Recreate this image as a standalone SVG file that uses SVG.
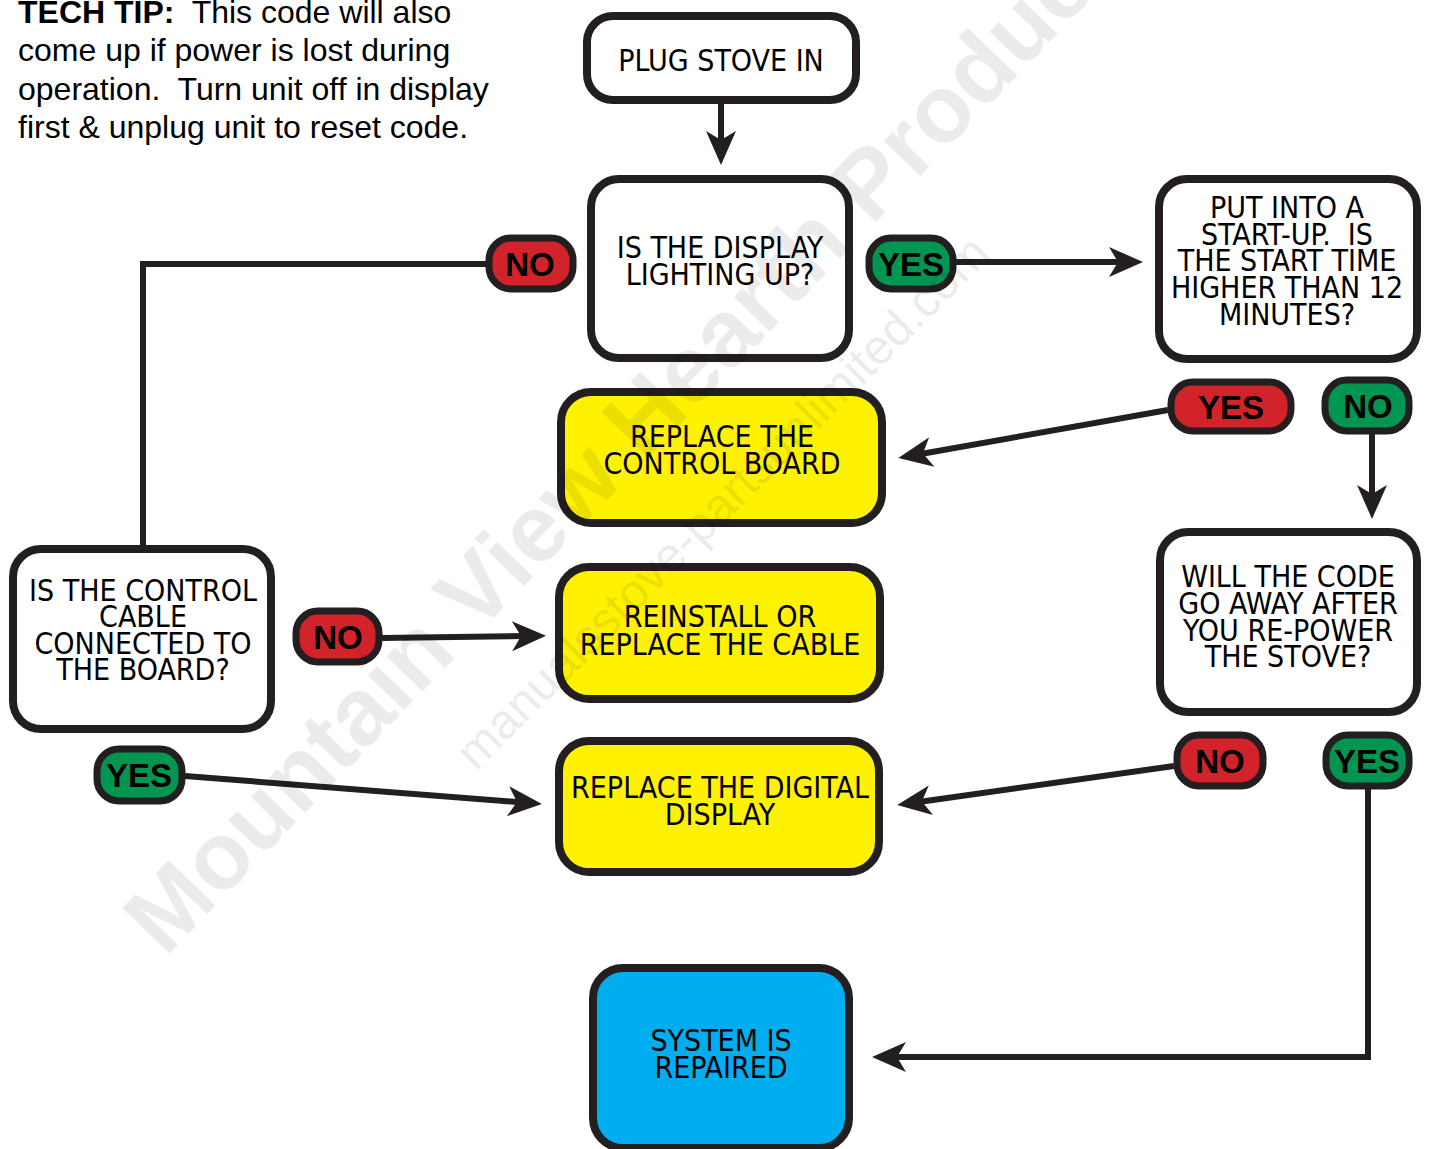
<svg xmlns="http://www.w3.org/2000/svg" width="1430" height="1149" viewBox="0 0 1430 1149">
<defs>
<style>
.box{stroke:#231f20;stroke-width:8}
.w{fill:#ffffff}.y{fill:#fff200}.b{fill:#00aeef}
.badge{stroke:#231f20;stroke-width:7}
.red{fill:#d2232a}.grn{fill:#009550}
.t{font-family:"DejaVu Sans Condensed","DejaVu Sans",sans-serif;font-stretch:condensed;font-size:30px;fill:#000;text-anchor:middle}
.bt{font-family:"Liberation Sans",Arial,sans-serif;font-weight:bold;font-size:33px;fill:#000;text-anchor:middle}
.tip{font-family:"Liberation Sans",Arial,sans-serif;font-size:32px;fill:#000}
.c{fill:none;stroke:#231f20;stroke-width:6}
.wm{font-family:"Liberation Sans",Arial,sans-serif;fill:#000;fill-opacity:0.08}
</style>
<marker id="ah" markerUnits="userSpaceOnUse" viewBox="-20 -20 45 40" refX="0" refY="0" markerWidth="45" markerHeight="40" orient="auto">
<path d="M20,0 L-14,-15 L-5,0 L-14,15 Z" fill="#231f20"/>
</marker>
</defs>
<rect width="1430" height="1149" fill="#ffffff"/>

<g id="tech-tip">
<text class="tip" x="18" y="23" xml:space="preserve"><tspan font-weight="bold">TECH TIP:</tspan>  This code will also</text>
<text class="tip" x="18" y="61">come up if power is lost during</text>
<text class="tip" x="18" y="100" xml:space="preserve">operation.  Turn unit off in display</text>
<text class="tip" x="18" y="138">first &amp; unplug unit to reset code.</text>
</g>

<g id="connectors">
<line class="c" x1="721" y1="104" x2="721" y2="145" marker-end="url(#ah)"/>
<polyline class="c" points="486,264 143,264 143,546"/>
<line class="c" x1="956" y1="262" x2="1123" y2="262" marker-end="url(#ah)"/>
<line class="c" x1="1168" y1="410" x2="918" y2="454.5" marker-end="url(#ah)"/>
<line class="c" x1="1372" y1="434" x2="1372" y2="499" marker-end="url(#ah)"/>
<line class="c" x1="382" y1="638" x2="526" y2="636" marker-end="url(#ah)"/>
<line class="c" x1="185" y1="776" x2="522" y2="802.4" marker-end="url(#ah)"/>
<line class="c" x1="1174" y1="766" x2="917" y2="802.2" marker-end="url(#ah)"/>
<polyline class="c" points="1368,789 1368,1057 892,1057" marker-end="url(#ah)"/>
</g>

<g id="plug-stove-in">
<rect class="box w" x="587" y="16" width="269" height="84" rx="26"/>
<text class="t" x="721" y="71">PLUG STOVE IN</text>
</g>

<g id="display-lighting">
<rect class="box w" x="591" y="179" width="258" height="179" rx="28"/>
<text class="t" x="720" y="258">IS THE DISPLAY</text>
<text class="t" x="720" y="285">LIGHTING UP?</text>
</g>

<g id="startup-time">
<rect class="box w" x="1159" y="179" width="258" height="180" rx="28"/>
<text class="t" x="1287" y="218">PUT INTO A</text>
<text class="t" x="1287" y="245" xml:space="preserve">START-UP.  IS</text>
<text class="t" x="1287" y="271">THE START TIME</text>
<text class="t" x="1287" y="298">HIGHER THAN 12</text>
<text class="t" x="1287" y="325">MINUTES?</text>
</g>

<g id="replace-control-board">
<rect class="box y" x="561" y="392" width="321" height="131" rx="30"/>
<text class="t" x="722" y="447">REPLACE THE</text>
<text class="t" x="722" y="474">CONTROL BOARD</text>
</g>

<g id="code-away">
<rect class="box w" x="1160" y="532" width="257" height="180" rx="28"/>
<text class="t" x="1288" y="587">WILL THE CODE</text>
<text class="t" x="1288" y="614">GO AWAY AFTER</text>
<text class="t" x="1288" y="641">YOU RE-POWER</text>
<text class="t" x="1288" y="667">THE STOVE?</text>
</g>

<g id="control-cable">
<rect class="box w" x="13" y="549" width="258" height="180" rx="28"/>
<text class="t" x="143" y="601">IS THE CONTROL</text>
<text class="t" x="143" y="627">CABLE</text>
<text class="t" x="143" y="654">CONNECTED TO</text>
<text class="t" x="143" y="680">THE BOARD?</text>
</g>

<g id="replace-cable">
<rect class="box y" x="559" y="567" width="321" height="132" rx="30"/>
<text class="t" x="720" y="627">REINSTALL OR</text>
<text class="t" x="720" y="655">REPLACE THE CABLE</text>
</g>

<g id="replace-digital-display">
<rect class="box y" x="559" y="741" width="320" height="131" rx="30"/>
<text class="t" x="720" y="798">REPLACE THE DIGITAL</text>
<text class="t" x="720" y="825">DISPLAY</text>
</g>

<g id="system-repaired">
<rect class="box b" x="593" y="968" width="256" height="180" rx="30"/>
<text class="t" x="721" y="1051">SYSTEM IS</text>
<text class="t" x="721" y="1078">REPAIRED</text>
</g>

<g id="badge-display-no">
<rect class="badge red" x="489" y="238" width="84" height="51" rx="22"/>
<text class="bt" x="530" y="276">NO</text>
</g>
<g id="badge-display-yes">
<rect class="badge grn" x="869" y="238" width="84" height="51" rx="22"/>
<text class="bt" x="911" y="276">YES</text>
</g>
<g id="badge-startup-yes">
<rect class="badge red" x="1171" y="382" width="120" height="49" rx="22"/>
<text class="bt" x="1231" y="419">YES</text>
</g>
<g id="badge-startup-no">
<rect class="badge grn" x="1325" y="380" width="84" height="51" rx="22"/>
<text class="bt" x="1368" y="418">NO</text>
</g>
<g id="badge-cable-no">
<rect class="badge red" x="296" y="611" width="83" height="51" rx="22"/>
<text class="bt" x="338" y="649">NO</text>
</g>
<g id="badge-cable-yes">
<rect class="badge grn" x="97" y="749" width="85" height="52" rx="22"/>
<text class="bt" x="139" y="787">YES</text>
</g>
<g id="badge-code-no">
<rect class="badge red" x="1177" y="735" width="86" height="51" rx="22"/>
<text class="bt" x="1220" y="773">NO</text>
</g>
<g id="badge-code-yes">
<rect class="badge grn" x="1326" y="735" width="83" height="51" rx="22"/>
<text class="bt" x="1367" y="773">YES</text>
</g>

<g id="watermark">
<text class="wm" font-weight="bold" font-size="95" transform="translate(165,958) rotate(-46)">Mountain View Hearth Products</text>
<text class="wm" font-size="49" transform="translate(476,772) rotate(-45)">manualsstove-partsunlimited.com</text>
</g>
</svg>
